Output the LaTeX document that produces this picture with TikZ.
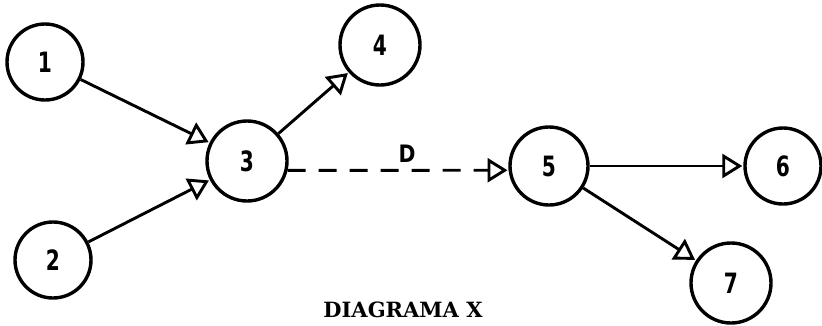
\documentclass[tikz,border=0pt]{standalone}
\usepackage{fontspec}
\newfontfamily\numfont{DejaVu Sans}
\newfontfamily\titlefont{DejaVu Serif}
\usetikzlibrary{arrows.meta}
\newcommand{\narrowtxt}[1]{\scalebox{0.72}[1]{#1}}
\tikzset{
  event/.style={circle, draw, line width=3.4pt, inner sep=0pt, minimum size=76pt,
    font=\fontsize{28}{28}\selectfont\numfont\bfseries},
  act/.style={line width=2.9pt, -{Triangle[open, length=20pt, width=24pt, line width=2.9pt]}, shorten >=1pt},
  dummy/.style={act, dash pattern=on 18pt off 13pt},
}
\begin{document}
\begin{tikzpicture}[x=1pt,y=-1pt]
\useasboundingbox (0,0) rectangle (822,325);
\node[event] (n1) at (45,62) {\narrowtxt{1}};
\node[event] (n2) at (53,260) {\narrowtxt{2}};
\node[event, minimum size=80pt] (n3) at (247,161) {\narrowtxt{3}};
\node[event, minimum size=80pt] (n4) at (380,45) {\narrowtxt{4}};
\node[event, minimum size=78pt] (n5) at (549,166) {\narrowtxt{5}};
\node[event] (n6) at (783,166) {\narrowtxt{6}};
\node[event, minimum size=80pt] (n7) at (731,283) {\narrowtxt{7}};
\draw[act] (n1) -- (n3);
\draw[act] (n2) -- (n3);
\draw[act] (n3) -- (n4);
\draw[dummy] (n3.-13) -- (n5.186);
\node[font=\fontsize{24}{24}\selectfont\numfont\bfseries] (lblD) at (407,154) {\scalebox{0.85}[1]{D}};
\draw[act] (n5) -- (n6);
\draw[act] (n5) -- (n7);
\node[font=\fontsize{21}{21}\selectfont\titlefont\bfseries] (title) at (403,310) {DIAGRAMA X};
\end{tikzpicture}
\end{document}
